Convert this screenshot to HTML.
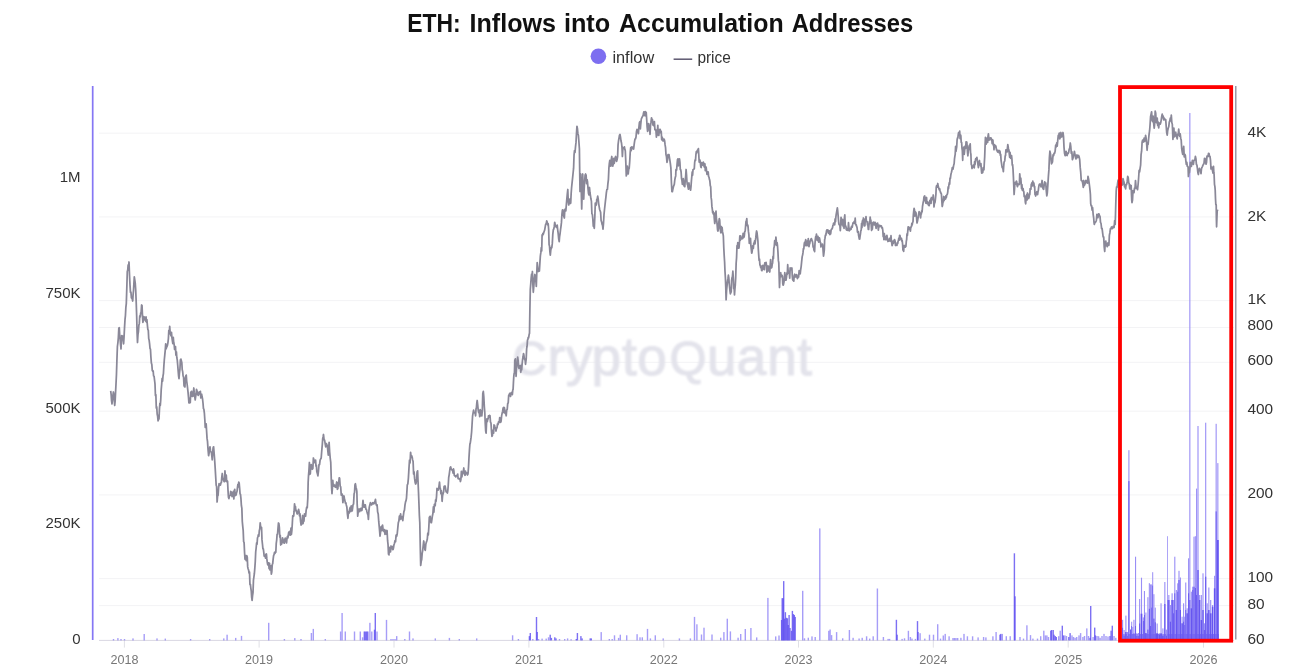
<!DOCTYPE html><html><head><meta charset="utf-8"><title>ETH: Inflows into Accumulation Addresses</title>
<style>html,body{margin:0;padding:0;background:#fff;}svg{display:block;}text{font-family:"Liberation Sans",Arial,sans-serif;}</style></head><body>
<svg width="1295" height="671" viewBox="0 0 1295 671">
<defs><filter id="blur" x="-5%" y="-20%" width="110%" height="140%"><feGaussianBlur stdDeviation="1.2"/></filter></defs>
<rect width="1295" height="671" fill="#fff"/>
<text x="407.2" y="31.5" font-size="25.5" font-weight="bold" fill="#111" textLength="53.4" lengthAdjust="spacingAndGlyphs">ETH:</text>
<text x="469.5" y="31.5" font-size="25.5" font-weight="bold" fill="#111" textLength="86.5" lengthAdjust="spacingAndGlyphs">Inflows</text>
<text x="563.9" y="31.5" font-size="25.5" font-weight="bold" fill="#111" textLength="46.3" lengthAdjust="spacingAndGlyphs">into</text>
<text x="619.1" y="31.5" font-size="25.5" font-weight="bold" fill="#111" textLength="164.5" lengthAdjust="spacingAndGlyphs">Accumulation</text>
<text x="791.7" y="31.5" font-size="25.5" font-weight="bold" fill="#111" textLength="121.6" lengthAdjust="spacingAndGlyphs">Addresses</text>
<circle cx="598.4" cy="56.2" r="7.8" fill="#7d6ef0"/>
<text x="612.4" y="63.2" font-size="16" fill="#333" textLength="41.8" lengthAdjust="spacingAndGlyphs">inflow</text>
<line x1="673.6" y1="59.2" x2="692.2" y2="59.2" stroke="#5d5870" stroke-width="1.5"/>
<text x="697.4" y="63.2" font-size="16" fill="#333" textLength="33.4" lengthAdjust="spacingAndGlyphs">price</text>
<line x1="99" y1="133.2" x2="1234" y2="133.2" stroke="#f3f3f5" stroke-width="1"/>
<line x1="99" y1="216.9" x2="1234" y2="216.9" stroke="#f3f3f5" stroke-width="1"/>
<line x1="99" y1="300.6" x2="1234" y2="300.6" stroke="#f3f3f5" stroke-width="1"/>
<line x1="99" y1="327.5" x2="1234" y2="327.5" stroke="#f3f3f5" stroke-width="1"/>
<line x1="99" y1="362.3" x2="1234" y2="362.3" stroke="#f3f3f5" stroke-width="1"/>
<line x1="99" y1="411.2" x2="1234" y2="411.2" stroke="#f3f3f5" stroke-width="1"/>
<line x1="99" y1="494.9" x2="1234" y2="494.9" stroke="#f3f3f5" stroke-width="1"/>
<line x1="99" y1="578.6" x2="1234" y2="578.6" stroke="#f3f3f5" stroke-width="1"/>
<line x1="99" y1="605.6" x2="1234" y2="605.6" stroke="#f3f3f5" stroke-width="1"/>
<g filter="url(#blur)" fill="#e3e3eb" stroke="#e3e3eb" stroke-width="1.1" text-anchor="middle"><text x="529.6" y="375.4" font-size="47.5">C</text><text x="556.4" y="375.4" font-size="53">r</text><text x="579.3" y="375.4" font-size="53">y</text><text x="606.3" y="375.4" font-size="53">p</text><text x="629.3" y="375.4" font-size="53">t</text><text x="651.9" y="375.4" font-size="53">o</text><text x="688" y="375.4" font-size="47.5">Q</text><text x="721.8" y="375.4" font-size="53">u</text><text x="751.4" y="375.4" font-size="53">a</text><text x="782.1" y="375.4" font-size="53">n</text><text x="804.7" y="375.4" font-size="53">t</text></g>
<line x1="99" y1="640.4" x2="1234" y2="640.4" stroke="#d9d7e2" stroke-width="1"/>
<line x1="124.4" y1="641" x2="124.4" y2="647.6" stroke="#e0e0e6" stroke-width="1"/>
<text x="124.4" y="664" text-anchor="middle" font-size="12.6" fill="#777">2018</text>
<line x1="259.1" y1="641" x2="259.1" y2="647.6" stroke="#e0e0e6" stroke-width="1"/>
<text x="259.1" y="664" text-anchor="middle" font-size="12.6" fill="#777">2019</text>
<line x1="394" y1="641" x2="394" y2="647.6" stroke="#e0e0e6" stroke-width="1"/>
<text x="394" y="664" text-anchor="middle" font-size="12.6" fill="#777">2020</text>
<line x1="528.9" y1="641" x2="528.9" y2="647.6" stroke="#e0e0e6" stroke-width="1"/>
<text x="528.9" y="664" text-anchor="middle" font-size="12.6" fill="#777">2021</text>
<line x1="663.8" y1="641" x2="663.8" y2="647.6" stroke="#e0e0e6" stroke-width="1"/>
<text x="663.8" y="664" text-anchor="middle" font-size="12.6" fill="#777">2022</text>
<line x1="798.5" y1="641" x2="798.5" y2="647.6" stroke="#e0e0e6" stroke-width="1"/>
<text x="798.5" y="664" text-anchor="middle" font-size="12.6" fill="#777">2023</text>
<line x1="933.3" y1="641" x2="933.3" y2="647.6" stroke="#e0e0e6" stroke-width="1"/>
<text x="933.3" y="664" text-anchor="middle" font-size="12.6" fill="#777">2024</text>
<line x1="1068.2" y1="641" x2="1068.2" y2="647.6" stroke="#e0e0e6" stroke-width="1"/>
<text x="1068.2" y="664" text-anchor="middle" font-size="12.6" fill="#777">2025</text>
<line x1="1203.5" y1="641" x2="1203.5" y2="647.6" stroke="#e0e0e6" stroke-width="1"/>
<text x="1203.5" y="664" text-anchor="middle" font-size="12.6" fill="#777">2026</text>
<g><rect x="112.80" y="639.0" width="1.4" height="1.4" fill="rgba(92,76,240,0.55)"/><rect x="117.20" y="638.1" width="1.4" height="2.3" fill="rgba(92,76,240,0.55)"/><rect x="120.30" y="639.0" width="1.4" height="1.4" fill="rgba(92,76,240,0.55)"/><rect x="123.80" y="639.0" width="1.4" height="1.4" fill="rgba(92,76,240,0.55)"/><rect x="132.30" y="638.4" width="1.4" height="2.0" fill="rgba(92,76,240,0.55)"/><rect x="143.50" y="634.0" width="1.4" height="6.4" fill="rgba(92,76,240,0.55)"/><rect x="156.30" y="638.4" width="1.4" height="2.0" fill="rgba(92,76,240,0.55)"/><rect x="164.60" y="638.6" width="1.4" height="1.8" fill="rgba(92,76,240,0.55)"/><rect x="189.90" y="639.0" width="1.4" height="1.4" fill="rgba(92,76,240,0.55)"/><rect x="209.00" y="639.0" width="1.4" height="1.4" fill="rgba(92,76,240,0.55)"/><rect x="223.10" y="638.4" width="1.4" height="2.0" fill="rgba(92,76,240,0.55)"/><rect x="226.40" y="634.7" width="1.4" height="5.7" fill="rgba(92,76,240,0.55)"/><rect x="235.00" y="637.9" width="1.4" height="2.5" fill="rgba(92,76,240,0.55)"/><rect x="240.80" y="635.9" width="1.4" height="4.5" fill="rgba(92,76,240,0.55)"/><rect x="268.00" y="622.8" width="1.4" height="17.6" fill="rgba(92,76,240,0.55)"/><rect x="283.70" y="639.0" width="1.4" height="1.4" fill="rgba(92,76,240,0.55)"/><rect x="294.10" y="638.1" width="1.4" height="2.3" fill="rgba(92,76,240,0.55)"/><rect x="300.30" y="639.0" width="1.4" height="1.4" fill="rgba(92,76,240,0.55)"/><rect x="310.70" y="633.0" width="1.4" height="7.4" fill="rgba(92,76,240,0.55)"/><rect x="312.60" y="628.9" width="1.4" height="11.5" fill="rgba(92,76,240,0.55)"/><rect x="324.60" y="639.0" width="1.4" height="1.4" fill="rgba(92,76,240,0.55)"/><rect x="339.90" y="631.5" width="1.4" height="8.9" fill="rgba(92,76,240,0.55)"/><rect x="341.40" y="613.0" width="1.4" height="27.4" fill="rgba(92,76,240,0.55)"/><rect x="344.60" y="631.5" width="1.4" height="8.9" fill="rgba(92,76,240,0.55)"/><rect x="353.80" y="631.5" width="1.4" height="8.9" fill="rgba(92,76,240,0.55)"/><rect x="359.60" y="631.5" width="1.4" height="8.9" fill="rgba(92,76,240,0.55)"/><rect x="361.90" y="637.3" width="1.4" height="3.1" fill="rgba(92,76,240,0.55)"/><rect x="363.60" y="631.5" width="1.4" height="8.9" fill="rgba(92,76,240,0.8)"/><rect x="364.80" y="631.5" width="1.4" height="8.9" fill="rgba(92,76,240,0.8)"/><rect x="366.00" y="631.5" width="1.4" height="8.9" fill="rgba(92,76,240,0.8)"/><rect x="367.10" y="631.5" width="1.4" height="8.9" fill="rgba(92,76,240,0.8)"/><rect x="369.20" y="622.8" width="1.4" height="17.6" fill="rgba(92,76,240,0.55)"/><rect x="371.10" y="631.5" width="1.4" height="8.9" fill="rgba(92,76,240,0.55)"/><rect x="373.80" y="629.7" width="1.4" height="10.7" fill="rgba(92,76,240,0.8)"/><rect x="374.60" y="613.0" width="1.4" height="27.4" fill="rgba(92,76,240,0.8)"/><rect x="376.30" y="631.5" width="1.4" height="8.9" fill="rgba(92,76,240,0.55)"/><rect x="385.80" y="619.9" width="1.4" height="20.5" fill="rgba(92,76,240,0.55)"/><rect x="390.30" y="639.0" width="1.4" height="1.4" fill="rgba(92,76,240,0.55)"/><rect x="392.30" y="639.0" width="1.4" height="1.4" fill="rgba(92,76,240,0.55)"/><rect x="394.30" y="639.0" width="1.4" height="1.4" fill="rgba(92,76,240,0.55)"/><rect x="396.00" y="636.1" width="1.4" height="4.3" fill="rgba(92,76,240,0.55)"/><rect x="404.10" y="639.0" width="1.4" height="1.4" fill="rgba(92,76,240,0.55)"/><rect x="408.80" y="631.5" width="1.4" height="8.9" fill="rgba(92,76,240,0.55)"/><rect x="412.30" y="638.4" width="1.4" height="2.0" fill="rgba(92,76,240,0.55)"/><rect x="434.60" y="638.4" width="1.4" height="2.0" fill="rgba(92,76,240,0.55)"/><rect x="448.70" y="637.9" width="1.4" height="2.5" fill="rgba(92,76,240,0.55)"/><rect x="458.60" y="639.0" width="1.4" height="1.4" fill="rgba(92,76,240,0.55)"/><rect x="476.00" y="638.4" width="1.4" height="2.0" fill="rgba(92,76,240,0.55)"/><rect x="511.90" y="635.3" width="1.4" height="5.1" fill="rgba(92,76,240,0.55)"/><rect x="517.70" y="639.0" width="1.4" height="1.4" fill="rgba(92,76,240,0.55)"/><rect x="528.70" y="636.1" width="1.4" height="4.3" fill="rgba(92,76,240,0.8)"/><rect x="529.60" y="633.0" width="1.4" height="7.4" fill="rgba(92,76,240,0.8)"/><rect x="532.10" y="639.0" width="1.4" height="1.4" fill="rgba(92,76,240,0.55)"/><rect x="535.80" y="617.0" width="1.4" height="23.4" fill="rgba(92,76,240,0.8)"/><rect x="536.50" y="632.0" width="1.4" height="8.4" fill="rgba(92,76,240,0.8)"/><rect x="537.90" y="639.0" width="1.4" height="1.4" fill="rgba(92,76,240,0.55)"/><rect x="541.40" y="638.6" width="1.4" height="1.8" fill="rgba(92,76,240,0.55)"/><rect x="545.50" y="638.6" width="1.4" height="1.8" fill="rgba(92,76,240,0.55)"/><rect x="547.80" y="637.3" width="1.4" height="3.1" fill="rgba(92,76,240,0.55)"/><rect x="549.50" y="634.7" width="1.4" height="5.7" fill="rgba(92,76,240,0.8)"/><rect x="550.70" y="637.9" width="1.4" height="2.5" fill="rgba(92,76,240,0.8)"/><rect x="554.10" y="637.3" width="1.4" height="3.1" fill="rgba(92,76,240,0.8)"/><rect x="555.30" y="638.4" width="1.4" height="2.0" fill="rgba(92,76,240,0.8)"/><rect x="558.80" y="639.0" width="1.4" height="1.4" fill="rgba(92,76,240,0.55)"/><rect x="564.00" y="639.0" width="1.4" height="1.4" fill="rgba(92,76,240,0.55)"/><rect x="566.90" y="638.4" width="1.4" height="2.0" fill="rgba(92,76,240,0.55)"/><rect x="570.40" y="639.2" width="1.4" height="1.2" fill="rgba(92,76,240,0.55)"/><rect x="575.60" y="639.0" width="1.4" height="1.4" fill="rgba(92,76,240,0.8)"/><rect x="576.70" y="633.0" width="1.4" height="7.4" fill="rgba(92,76,240,0.8)"/><rect x="580.20" y="636.1" width="1.4" height="4.3" fill="rgba(92,76,240,0.8)"/><rect x="581.40" y="638.4" width="1.4" height="2.0" fill="rgba(92,76,240,0.8)"/><rect x="589.50" y="638.4" width="1.4" height="2.0" fill="rgba(92,76,240,0.8)"/><rect x="590.60" y="638.4" width="1.4" height="2.0" fill="rgba(92,76,240,0.8)"/><rect x="600.50" y="632.1" width="1.4" height="8.3" fill="rgba(92,76,240,0.55)"/><rect x="608.60" y="639.0" width="1.4" height="1.4" fill="rgba(92,76,240,0.55)"/><rect x="611.50" y="639.0" width="1.4" height="1.4" fill="rgba(92,76,240,0.55)"/><rect x="613.80" y="635.3" width="1.4" height="5.1" fill="rgba(92,76,240,0.55)"/><rect x="617.90" y="637.9" width="1.4" height="2.5" fill="rgba(92,76,240,0.55)"/><rect x="619.60" y="634.7" width="1.4" height="5.7" fill="rgba(92,76,240,0.55)"/><rect x="626.00" y="635.3" width="1.4" height="5.1" fill="rgba(92,76,240,0.55)"/><rect x="636.40" y="634.2" width="1.4" height="6.2" fill="rgba(92,76,240,0.55)"/><rect x="639.30" y="637.3" width="1.4" height="3.1" fill="rgba(92,76,240,0.55)"/><rect x="641.60" y="637.3" width="1.4" height="3.1" fill="rgba(92,76,240,0.55)"/><rect x="646.80" y="628.9" width="1.4" height="11.5" fill="rgba(92,76,240,0.55)"/><rect x="649.70" y="638.4" width="1.4" height="2.0" fill="rgba(92,76,240,0.55)"/><rect x="654.60" y="635.3" width="1.4" height="5.1" fill="rgba(92,76,240,0.55)"/><rect x="662.50" y="638.4" width="1.4" height="2.0" fill="rgba(92,76,240,0.55)"/><rect x="678.70" y="638.4" width="1.4" height="2.0" fill="rgba(92,76,240,0.55)"/><rect x="689.70" y="638.4" width="1.4" height="2.0" fill="rgba(92,76,240,0.55)"/><rect x="693.80" y="616.9" width="1.4" height="23.5" fill="rgba(92,76,240,0.55)"/><rect x="696.20" y="624.3" width="1.4" height="16.1" fill="rgba(92,76,240,0.55)"/><rect x="700.80" y="634.5" width="1.4" height="5.9" fill="rgba(92,76,240,0.55)"/><rect x="703.30" y="627.7" width="1.4" height="12.7" fill="rgba(92,76,240,0.55)"/><rect x="711.30" y="634.5" width="1.4" height="5.9" fill="rgba(92,76,240,0.55)"/><rect x="720.00" y="637.7" width="1.4" height="2.7" fill="rgba(92,76,240,0.55)"/><rect x="723.20" y="632.1" width="1.4" height="8.3" fill="rgba(92,76,240,0.55)"/><rect x="726.60" y="618.7" width="1.4" height="21.7" fill="rgba(92,76,240,0.55)"/><rect x="729.70" y="631.4" width="1.4" height="9.0" fill="rgba(92,76,240,0.55)"/><rect x="737.40" y="637.7" width="1.4" height="2.7" fill="rgba(92,76,240,0.55)"/><rect x="740.00" y="634.0" width="1.4" height="6.4" fill="rgba(92,76,240,0.55)"/><rect x="744.60" y="629.0" width="1.4" height="11.4" fill="rgba(92,76,240,0.55)"/><rect x="750.20" y="628.0" width="1.4" height="12.4" fill="rgba(92,76,240,0.55)"/><rect x="756.00" y="637.4" width="1.4" height="3.0" fill="rgba(92,76,240,0.55)"/><rect x="767.20" y="597.9" width="1.4" height="42.5" fill="rgba(92,76,240,0.55)"/><rect x="775.00" y="636.4" width="1.4" height="4.0" fill="rgba(92,76,240,0.55)"/><rect x="778.30" y="635.5" width="1.4" height="4.9" fill="rgba(92,76,240,0.55)"/><rect x="780.90" y="620.0" width="1.4" height="20.4" fill="rgba(92,76,240,0.8)"/><rect x="781.50" y="598.2" width="1.4" height="42.2" fill="rgba(92,76,240,0.8)"/><rect x="782.40" y="598.2" width="1.4" height="42.2" fill="rgba(92,76,240,0.8)"/><rect x="783.00" y="581.1" width="1.4" height="59.3" fill="rgba(92,76,240,0.8)"/><rect x="783.90" y="618.7" width="1.4" height="21.7" fill="rgba(92,76,240,0.8)"/><rect x="784.70" y="612.2" width="1.4" height="28.2" fill="rgba(92,76,240,0.8)"/><rect x="785.80" y="617.8" width="1.4" height="22.6" fill="rgba(92,76,240,0.8)"/><rect x="786.70" y="618.3" width="1.4" height="22.1" fill="rgba(92,76,240,0.8)"/><rect x="787.50" y="625.0" width="1.4" height="15.4" fill="rgba(92,76,240,0.8)"/><rect x="788.40" y="615.0" width="1.4" height="25.4" fill="rgba(92,76,240,0.8)"/><rect x="789.30" y="628.0" width="1.4" height="12.4" fill="rgba(92,76,240,0.8)"/><rect x="790.80" y="630.8" width="1.4" height="9.6" fill="rgba(92,76,240,0.8)"/><rect x="791.70" y="610.9" width="1.4" height="29.5" fill="rgba(92,76,240,0.8)"/><rect x="792.70" y="614.1" width="1.4" height="26.3" fill="rgba(92,76,240,0.8)"/><rect x="793.60" y="615.0" width="1.4" height="25.4" fill="rgba(92,76,240,0.8)"/><rect x="794.50" y="616.9" width="1.4" height="23.5" fill="rgba(92,76,240,0.8)"/><rect x="802.00" y="590.8" width="1.4" height="49.6" fill="rgba(92,76,240,0.55)"/><rect x="803.80" y="638.3" width="1.4" height="2.1" fill="rgba(92,76,240,0.55)"/><rect x="807.60" y="637.7" width="1.4" height="2.7" fill="rgba(92,76,240,0.55)"/><rect x="811.30" y="636.4" width="1.4" height="4.0" fill="rgba(92,76,240,0.55)"/><rect x="814.50" y="637.0" width="1.4" height="3.4" fill="rgba(92,76,240,0.55)"/><rect x="819.10" y="528.4" width="1.4" height="112.0" fill="rgba(92,76,240,0.55)"/><rect x="828.10" y="630.8" width="1.4" height="9.6" fill="rgba(92,76,240,0.55)"/><rect x="829.40" y="629.5" width="1.4" height="10.9" fill="rgba(92,76,240,0.55)"/><rect x="830.90" y="635.1" width="1.4" height="5.3" fill="rgba(92,76,240,0.55)"/><rect x="835.90" y="632.1" width="1.4" height="8.3" fill="rgba(92,76,240,0.55)"/><rect x="842.00" y="638.3" width="1.4" height="2.1" fill="rgba(92,76,240,0.55)"/><rect x="848.70" y="630.0" width="1.4" height="10.4" fill="rgba(92,76,240,0.55)"/><rect x="852.40" y="637.8" width="1.4" height="2.6" fill="rgba(92,76,240,0.55)"/><rect x="858.40" y="638.5" width="1.4" height="1.9" fill="rgba(92,76,240,0.55)"/><rect x="861.50" y="637.8" width="1.4" height="2.6" fill="rgba(92,76,240,0.55)"/><rect x="865.90" y="636.3" width="1.4" height="4.1" fill="rgba(92,76,240,0.55)"/><rect x="869.00" y="638.6" width="1.4" height="1.8" fill="rgba(92,76,240,0.55)"/><rect x="872.50" y="636.3" width="1.4" height="4.1" fill="rgba(92,76,240,0.55)"/><rect x="876.70" y="588.5" width="1.4" height="51.9" fill="rgba(92,76,240,0.55)"/><rect x="882.70" y="637.0" width="1.4" height="3.4" fill="rgba(92,76,240,0.55)"/><rect x="887.40" y="638.9" width="1.4" height="1.5" fill="rgba(92,76,240,0.55)"/><rect x="888.90" y="638.9" width="1.4" height="1.5" fill="rgba(92,76,240,0.55)"/><rect x="895.70" y="619.8" width="1.4" height="20.6" fill="rgba(92,76,240,0.8)"/><rect x="896.40" y="634.7" width="1.4" height="5.7" fill="rgba(92,76,240,0.8)"/><rect x="901.40" y="638.9" width="1.4" height="1.5" fill="rgba(92,76,240,0.55)"/><rect x="903.80" y="638.3" width="1.4" height="2.1" fill="rgba(92,76,240,0.55)"/><rect x="907.70" y="630.8" width="1.4" height="9.6" fill="rgba(92,76,240,0.55)"/><rect x="909.70" y="637.0" width="1.4" height="3.4" fill="rgba(92,76,240,0.55)"/><rect x="911.30" y="638.6" width="1.4" height="1.8" fill="rgba(92,76,240,0.55)"/><rect x="914.70" y="638.9" width="1.4" height="1.5" fill="rgba(92,76,240,0.55)"/><rect x="916.80" y="621.1" width="1.4" height="19.3" fill="rgba(92,76,240,0.8)"/><rect x="917.30" y="632.0" width="1.4" height="8.4" fill="rgba(92,76,240,0.8)"/><rect x="919.40" y="633.2" width="1.4" height="7.2" fill="rgba(92,76,240,0.55)"/><rect x="924.10" y="638.6" width="1.4" height="1.8" fill="rgba(92,76,240,0.55)"/><rect x="928.80" y="634.7" width="1.4" height="5.7" fill="rgba(92,76,240,0.55)"/><rect x="932.80" y="634.7" width="1.4" height="5.7" fill="rgba(92,76,240,0.55)"/><rect x="937.00" y="624.2" width="1.4" height="16.2" fill="rgba(92,76,240,0.55)"/><rect x="939.80" y="638.6" width="1.4" height="1.8" fill="rgba(92,76,240,0.55)"/><rect x="942.60" y="635.5" width="1.4" height="4.9" fill="rgba(92,76,240,0.55)"/><rect x="944.50" y="633.9" width="1.4" height="6.5" fill="rgba(92,76,240,0.55)"/><rect x="948.40" y="636.3" width="1.4" height="4.1" fill="rgba(92,76,240,0.55)"/><rect x="952.30" y="638.0" width="1.4" height="2.4" fill="rgba(92,76,240,0.55)"/><rect x="953.80" y="638.0" width="1.4" height="2.4" fill="rgba(92,76,240,0.55)"/><rect x="955.30" y="638.0" width="1.4" height="2.4" fill="rgba(92,76,240,0.55)"/><rect x="957.00" y="638.0" width="1.4" height="2.4" fill="rgba(92,76,240,0.55)"/><rect x="960.20" y="637.8" width="1.4" height="2.6" fill="rgba(92,76,240,0.55)"/><rect x="963.30" y="633.9" width="1.4" height="6.5" fill="rgba(92,76,240,0.55)"/><rect x="966.70" y="636.3" width="1.4" height="4.1" fill="rgba(92,76,240,0.55)"/><rect x="971.90" y="636.3" width="1.4" height="4.1" fill="rgba(92,76,240,0.55)"/><rect x="977.40" y="637.4" width="1.4" height="3.0" fill="rgba(92,76,240,0.55)"/><rect x="982.90" y="637.0" width="1.4" height="3.4" fill="rgba(92,76,240,0.55)"/><rect x="985.20" y="637.4" width="1.4" height="3.0" fill="rgba(92,76,240,0.55)"/><rect x="992.20" y="636.3" width="1.4" height="4.1" fill="rgba(92,76,240,0.55)"/><rect x="995.40" y="632.0" width="1.4" height="8.4" fill="rgba(92,76,240,0.55)"/><rect x="999.30" y="634.7" width="1.4" height="5.7" fill="rgba(92,76,240,0.8)"/><rect x="1000.10" y="633.9" width="1.4" height="6.5" fill="rgba(92,76,240,0.8)"/><rect x="1001.60" y="633.9" width="1.4" height="6.5" fill="rgba(92,76,240,0.55)"/><rect x="1005.60" y="636.2" width="1.4" height="4.2" fill="rgba(92,76,240,0.55)"/><rect x="1009.50" y="636.2" width="1.4" height="4.2" fill="rgba(92,76,240,0.55)"/><rect x="1013.70" y="553.3" width="1.4" height="87.1" fill="rgba(92,76,240,0.8)"/><rect x="1014.30" y="596.3" width="1.4" height="44.1" fill="rgba(92,76,240,0.8)"/><rect x="1019.30" y="637.0" width="1.4" height="3.4" fill="rgba(92,76,240,0.55)"/><rect x="1022.80" y="638.6" width="1.4" height="1.8" fill="rgba(92,76,240,0.55)"/><rect x="1026.20" y="625.3" width="1.4" height="15.1" fill="rgba(92,76,240,0.55)"/><rect x="1029.80" y="635.1" width="1.4" height="5.3" fill="rgba(92,76,240,0.55)"/><rect x="1032.20" y="638.6" width="1.4" height="1.8" fill="rgba(92,76,240,0.55)"/><rect x="1036.80" y="638.6" width="1.4" height="1.8" fill="rgba(92,76,240,0.55)"/><rect x="1040.00" y="636.2" width="1.4" height="4.2" fill="rgba(92,76,240,0.55)"/><rect x="1043.10" y="630.7" width="1.4" height="9.7" fill="rgba(92,76,240,0.55)"/><rect x="1044.70" y="635.4" width="1.4" height="5.0" fill="rgba(92,76,240,0.55)"/><rect x="1046.20" y="635.4" width="1.4" height="5.0" fill="rgba(92,76,240,0.55)"/><rect x="1047.80" y="637.0" width="1.4" height="3.4" fill="rgba(92,76,240,0.55)"/><rect x="1050.10" y="630.7" width="1.4" height="9.7" fill="rgba(92,76,240,0.8)"/><rect x="1050.90" y="630.0" width="1.4" height="10.4" fill="rgba(92,76,240,0.8)"/><rect x="1052.50" y="630.0" width="1.4" height="10.4" fill="rgba(92,76,240,0.8)"/><rect x="1053.30" y="634.7" width="1.4" height="5.7" fill="rgba(92,76,240,0.8)"/><rect x="1054.50" y="636.0" width="1.4" height="4.4" fill="rgba(92,76,240,0.8)"/><rect x="1055.60" y="637.0" width="1.4" height="3.4" fill="rgba(92,76,240,0.8)"/><rect x="1058.00" y="636.2" width="1.4" height="4.2" fill="rgba(92,76,240,0.55)"/><rect x="1059.50" y="630.7" width="1.4" height="9.7" fill="rgba(92,76,240,0.55)"/><rect x="1061.60" y="625.7" width="1.4" height="14.7" fill="rgba(92,76,240,0.8)"/><rect x="1062.70" y="635.4" width="1.4" height="5.0" fill="rgba(92,76,240,0.8)"/><rect x="1064.20" y="635.4" width="1.4" height="5.0" fill="rgba(92,76,240,0.55)"/><rect x="1065.80" y="636.0" width="1.4" height="4.4" fill="rgba(92,76,240,0.55)"/><rect x="1068.10" y="637.0" width="1.4" height="3.4" fill="rgba(92,76,240,0.8)"/><rect x="1069.40" y="633.1" width="1.4" height="7.3" fill="rgba(92,76,240,0.8)"/><rect x="1071.30" y="635.4" width="1.4" height="5.0" fill="rgba(92,76,240,0.55)"/><rect x="1072.80" y="637.0" width="1.4" height="3.4" fill="rgba(92,76,240,0.55)"/><rect x="1074.40" y="637.8" width="1.4" height="2.6" fill="rgba(92,76,240,0.55)"/><rect x="1076.00" y="637.0" width="1.4" height="3.4" fill="rgba(92,76,240,0.55)"/><rect x="1078.30" y="635.4" width="1.4" height="5.0" fill="rgba(92,76,240,0.55)"/><rect x="1079.90" y="633.1" width="1.4" height="7.3" fill="rgba(92,76,240,0.55)"/><rect x="1082.20" y="637.0" width="1.4" height="3.4" fill="rgba(92,76,240,0.55)"/><rect x="1083.80" y="636.0" width="1.4" height="4.4" fill="rgba(92,76,240,0.55)"/><rect x="1086.10" y="628.4" width="1.4" height="12.0" fill="rgba(92,76,240,0.55)"/><rect x="1087.80" y="636.0" width="1.4" height="4.4" fill="rgba(92,76,240,0.55)"/><rect x="1089.30" y="637.8" width="1.4" height="2.6" fill="rgba(92,76,240,0.8)"/><rect x="1090.00" y="606.0" width="1.4" height="34.4" fill="rgba(92,76,240,0.8)"/><rect x="1092.40" y="637.0" width="1.4" height="3.4" fill="rgba(92,76,240,0.55)"/><rect x="1094.00" y="627.6" width="1.4" height="12.8" fill="rgba(92,76,240,0.8)"/><rect x="1094.70" y="635.4" width="1.4" height="5.0" fill="rgba(92,76,240,0.8)"/><rect x="1096.30" y="636.0" width="1.4" height="4.4" fill="rgba(92,76,240,0.55)"/><rect x="1097.90" y="636.2" width="1.4" height="4.2" fill="rgba(92,76,240,0.55)"/><rect x="1099.40" y="637.8" width="1.4" height="2.6" fill="rgba(92,76,240,0.55)"/><rect x="1101.30" y="636.0" width="1.4" height="4.4" fill="rgba(92,76,240,0.55)"/><rect x="1103.30" y="633.9" width="1.4" height="6.5" fill="rgba(92,76,240,0.55)"/><rect x="1105.30" y="636.0" width="1.4" height="4.4" fill="rgba(92,76,240,0.55)"/><rect x="1107.30" y="636.5" width="1.4" height="3.9" fill="rgba(92,76,240,0.55)"/><rect x="1109.30" y="636.0" width="1.4" height="4.4" fill="rgba(92,76,240,0.8)"/><rect x="1110.40" y="630.7" width="1.4" height="9.7" fill="rgba(92,76,240,0.8)"/><rect x="1111.60" y="625.7" width="1.4" height="14.7" fill="rgba(92,76,240,0.8)"/><rect x="1113.30" y="636.0" width="1.4" height="4.4" fill="rgba(92,76,240,0.55)"/><rect x="1115.10" y="637.8" width="1.4" height="2.6" fill="rgba(92,76,240,0.55)"/><rect x="1122" y="634" width="97" height="6.4" fill="#8a7ef4"/><rect x="1122.05" y="619.8" width="1.10" height="20.6" fill="#998ef6"/><rect x="1123.55" y="630.0" width="1.10" height="10.4" fill="#998ef6"/><rect x="1125.35" y="615.6" width="1.10" height="24.8" fill="#998ef6"/><rect x="1127.00" y="632.0" width="1.00" height="8.4" fill="#998ef6"/><rect x="1128.35" y="450.2" width="1.10" height="190.2" fill="#998ef6"/><rect x="1130.05" y="629.6" width="1.10" height="10.8" fill="#998ef6"/><rect x="1131.20" y="621.7" width="1.00" height="18.7" fill="#998ef6"/><rect x="1132.30" y="627.0" width="1.00" height="13.4" fill="#998ef6"/><rect x="1133.40" y="619.8" width="1.10" height="20.6" fill="#998ef6"/><rect x="1135.00" y="556.7" width="1.10" height="83.7" fill="#998ef6"/><rect x="1136.35" y="633.0" width="1.10" height="7.4" fill="#998ef6"/><rect x="1138.00" y="633.0" width="1.00" height="7.4" fill="#998ef6"/><rect x="1139.10" y="599.0" width="1.10" height="41.4" fill="#998ef6"/><rect x="1140.95" y="577.7" width="1.10" height="62.7" fill="#998ef6"/><rect x="1142.80" y="617.4" width="1.10" height="23.0" fill="#998ef6"/><rect x="1143.90" y="591.0" width="1.10" height="49.4" fill="#998ef6"/><rect x="1145.35" y="612.5" width="1.10" height="27.9" fill="#998ef6"/><rect x="1147.35" y="597.2" width="1.10" height="43.2" fill="#998ef6"/><rect x="1148.80" y="583.2" width="1.10" height="57.2" fill="#998ef6"/><rect x="1150.05" y="584.4" width="1.10" height="56.0" fill="#998ef6"/><rect x="1151.20" y="584.4" width="1.00" height="56.0" fill="#998ef6"/><rect x="1152.20" y="572.2" width="1.00" height="68.2" fill="#998ef6"/><rect x="1153.35" y="594.2" width="1.10" height="46.2" fill="#998ef6"/><rect x="1154.70" y="607.6" width="1.10" height="32.8" fill="#998ef6"/><rect x="1156.60" y="623.5" width="1.10" height="16.9" fill="#998ef6"/><rect x="1158.90" y="633.3" width="1.10" height="7.1" fill="#998ef6"/><rect x="1160.50" y="603.3" width="1.10" height="37.1" fill="#998ef6"/><rect x="1162.35" y="628.4" width="1.10" height="12.0" fill="#998ef6"/><rect x="1164.30" y="582.0" width="1.10" height="58.4" fill="#998ef6"/><rect x="1165.85" y="629.6" width="1.10" height="10.8" fill="#998ef6"/><rect x="1167.00" y="536.2" width="0.80" height="104.2" fill="#998ef6"/><rect x="1168.30" y="595.0" width="1.10" height="45.4" fill="#998ef6"/><rect x="1169.85" y="605.0" width="1.10" height="35.4" fill="#998ef6"/><rect x="1171.55" y="593.3" width="1.10" height="47.1" fill="#998ef6"/><rect x="1173.05" y="600.0" width="1.10" height="40.4" fill="#998ef6"/><rect x="1174.25" y="556.7" width="1.10" height="83.7" fill="#998ef6"/><rect x="1175.80" y="590.0" width="1.10" height="50.4" fill="#998ef6"/><rect x="1177.20" y="583.3" width="1.10" height="57.1" fill="#998ef6"/><rect x="1178.45" y="570.8" width="1.10" height="69.6" fill="#998ef6"/><rect x="1179.85" y="577.5" width="1.10" height="62.9" fill="#998ef6"/><rect x="1181.55" y="616.7" width="1.10" height="23.7" fill="#998ef6"/><rect x="1183.05" y="603.3" width="1.10" height="37.1" fill="#998ef6"/><rect x="1184.20" y="616.7" width="1.00" height="23.7" fill="#998ef6"/><rect x="1185.20" y="582.5" width="1.10" height="57.9" fill="#998ef6"/><rect x="1186.60" y="608.3" width="1.10" height="32.1" fill="#998ef6"/><rect x="1188.05" y="558.3" width="1.10" height="82.1" fill="#998ef6"/><rect x="1189.30" y="113.0" width="1.10" height="527.4" fill="#998ef6"/><rect x="1190.80" y="591.7" width="1.10" height="48.7" fill="#998ef6"/><rect x="1192.20" y="586.7" width="1.10" height="53.7" fill="#998ef6"/><rect x="1193.45" y="536.7" width="1.10" height="103.7" fill="#998ef6"/><rect x="1194.80" y="536.2" width="1.10" height="104.2" fill="#998ef6"/><rect x="1196.05" y="488.6" width="1.10" height="151.8" fill="#998ef6"/><rect x="1197.45" y="426.0" width="1.10" height="214.4" fill="#998ef6"/><rect x="1199.10" y="595.0" width="1.10" height="45.4" fill="#998ef6"/><rect x="1200.80" y="595.0" width="1.10" height="45.4" fill="#998ef6"/><rect x="1202.45" y="573.3" width="1.10" height="67.1" fill="#998ef6"/><rect x="1203.85" y="623.3" width="1.10" height="17.1" fill="#998ef6"/><rect x="1205.15" y="422.7" width="1.10" height="217.7" fill="#998ef6"/><rect x="1206.65" y="603.3" width="1.10" height="37.1" fill="#998ef6"/><rect x="1208.30" y="587.5" width="1.10" height="52.9" fill="#998ef6"/><rect x="1210.15" y="600.0" width="1.10" height="40.4" fill="#998ef6"/><rect x="1212.05" y="605.0" width="1.10" height="35.4" fill="#998ef6"/><rect x="1214.05" y="575.8" width="1.10" height="64.6" fill="#998ef6"/><rect x="1215.60" y="423.8" width="1.10" height="216.6" fill="#998ef6"/><rect x="1217.30" y="463.1" width="1.10" height="177.3" fill="#998ef6"/><rect x="1122.15" y="627.8" width="0.90" height="12.6" fill="#6656f0"/><rect x="1123.55" y="635.7" width="1.10" height="4.7" fill="#6656f0"/><rect x="1125.15" y="632.0" width="1.50" height="8.4" fill="#6656f0"/><rect x="1127.15" y="636.0" width="0.70" height="4.4" fill="#6656f0"/><rect x="1128.35" y="481.1" width="1.10" height="159.3" fill="#6656f0"/><rect x="1130.15" y="629.6" width="0.90" height="10.8" fill="#6656f0"/><rect x="1131.35" y="626.0" width="0.70" height="14.4" fill="#6656f0"/><rect x="1132.45" y="634.0" width="0.70" height="6.4" fill="#6656f0"/><rect x="1133.45" y="633.3" width="1.00" height="7.1" fill="#6656f0"/><rect x="1135.15" y="626.0" width="0.80" height="14.4" fill="#6656f0"/><rect x="1136.35" y="636.0" width="1.10" height="4.4" fill="#6656f0"/><rect x="1138.15" y="636.0" width="0.70" height="4.4" fill="#6656f0"/><rect x="1139.15" y="623.5" width="1.00" height="16.9" fill="#6656f0"/><rect x="1140.65" y="613.7" width="1.70" height="26.7" fill="#6656f0"/><rect x="1142.95" y="621.0" width="0.80" height="19.4" fill="#6656f0"/><rect x="1144.05" y="615.0" width="0.80" height="25.4" fill="#6656f0"/><rect x="1145.15" y="633.0" width="1.50" height="7.4" fill="#6656f0"/><rect x="1147.35" y="629.6" width="1.10" height="10.8" fill="#6656f0"/><rect x="1148.85" y="608.8" width="1.00" height="31.6" fill="#6656f0"/><rect x="1150.15" y="626.0" width="0.90" height="14.4" fill="#6656f0"/><rect x="1151.35" y="607.6" width="0.70" height="32.8" fill="#6656f0"/><rect x="1152.35" y="585.6" width="0.70" height="54.8" fill="#6656f0"/><rect x="1153.35" y="618.6" width="1.10" height="21.8" fill="#6656f0"/><rect x="1154.75" y="622.3" width="1.00" height="18.1" fill="#6656f0"/><rect x="1156.05" y="633.3" width="2.20" height="7.1" fill="#6656f0"/><rect x="1158.95" y="634.5" width="1.00" height="5.9" fill="#6656f0"/><rect x="1160.25" y="633.3" width="1.60" height="7.1" fill="#6656f0"/><rect x="1162.15" y="635.7" width="1.50" height="4.7" fill="#6656f0"/><rect x="1164.25" y="604.0" width="1.20" height="36.4" fill="#6656f0"/><rect x="1165.95" y="635.7" width="0.90" height="4.7" fill="#6656f0"/><rect x="1167.15" y="600.0" width="0.50" height="40.4" fill="#6656f0"/><rect x="1168.15" y="600.0" width="1.40" height="40.4" fill="#6656f0"/><rect x="1169.85" y="621.7" width="1.10" height="18.7" fill="#6656f0"/><rect x="1171.35" y="600.0" width="1.50" height="40.4" fill="#6656f0"/><rect x="1173.15" y="613.3" width="0.90" height="27.1" fill="#6656f0"/><rect x="1174.35" y="593.3" width="0.90" height="47.1" fill="#6656f0"/><rect x="1175.65" y="610.0" width="1.40" height="30.4" fill="#6656f0"/><rect x="1177.35" y="591.7" width="0.80" height="48.7" fill="#6656f0"/><rect x="1178.45" y="580.0" width="1.10" height="60.4" fill="#6656f0"/><rect x="1179.85" y="610.0" width="1.10" height="30.4" fill="#6656f0"/><rect x="1181.35" y="623.3" width="1.50" height="17.1" fill="#6656f0"/><rect x="1183.15" y="621.7" width="0.90" height="18.7" fill="#6656f0"/><rect x="1184.35" y="625.0" width="0.70" height="15.4" fill="#6656f0"/><rect x="1185.35" y="610.0" width="0.80" height="30.4" fill="#6656f0"/><rect x="1186.45" y="613.3" width="1.40" height="27.1" fill="#6656f0"/><rect x="1188.15" y="593.3" width="0.90" height="47.1" fill="#6656f0"/><rect x="1189.35" y="600.0" width="1.00" height="40.4" fill="#6656f0"/><rect x="1190.65" y="608.3" width="1.40" height="32.1" fill="#6656f0"/><rect x="1192.35" y="590.0" width="0.80" height="50.4" fill="#6656f0"/><rect x="1193.45" y="586.7" width="1.10" height="53.7" fill="#6656f0"/><rect x="1194.85" y="588.0" width="1.00" height="52.4" fill="#6656f0"/><rect x="1196.15" y="595.0" width="0.90" height="45.4" fill="#6656f0"/><rect x="1197.35" y="570.0" width="1.30" height="70.4" fill="#6656f0"/><rect x="1198.95" y="600.0" width="1.40" height="40.4" fill="#6656f0"/><rect x="1200.65" y="620.0" width="1.40" height="20.4" fill="#6656f0"/><rect x="1202.35" y="610.0" width="1.30" height="30.4" fill="#6656f0"/><rect x="1203.95" y="630.0" width="0.90" height="10.4" fill="#6656f0"/><rect x="1205.15" y="576.7" width="1.10" height="63.7" fill="#6656f0"/><rect x="1206.55" y="613.3" width="1.30" height="27.1" fill="#6656f0"/><rect x="1208.15" y="610.0" width="1.40" height="30.4" fill="#6656f0"/><rect x="1209.85" y="613.3" width="1.70" height="27.1" fill="#6656f0"/><rect x="1211.85" y="606.7" width="1.50" height="33.7" fill="#6656f0"/><rect x="1213.85" y="588.3" width="1.50" height="52.1" fill="#6656f0"/><rect x="1215.65" y="511.4" width="1.00" height="129.0" fill="#6656f0"/><rect x="1216.95" y="540.0" width="1.80" height="100.4" fill="#6656f0"/></g>
<polyline points="110.70,390.8 111.13,394.5 111.57,400.9 112.00,404.0 112.47,399.4 112.93,395.2 113.40,392.0 113.83,394.1 114.27,400.4 114.70,405.5 115.13,401.2 115.57,392.3 116.00,384.0 116.47,374.2 116.93,359.6 117.40,346.5 117.88,342.8 118.35,337.6 118.83,328.1 119.30,327.7 119.72,335.2 120.15,339.7 120.58,345.0 121.00,349.0 121.40,340.2 121.80,335.7 122.20,335.8 122.67,336.2 123.13,339.9 123.60,343.8 124.07,336.6 124.53,327.6 125.00,319.7 125.43,315.7 125.87,307.3 126.30,303.6 126.80,288.3 127.30,271.4 127.72,270.1 128.15,265.0 128.57,268.8 129.00,262.0 129.50,274.9 130.00,284.9 130.47,292.4 130.93,292.0 131.40,298.0 131.83,297.1 132.27,299.1 132.70,301.0 133.10,294.7 133.50,290.5 133.90,283.5 134.30,276.8 134.77,280.0 135.23,283.1 135.70,290.0 136.20,302.1 136.70,317.0 137.10,332.9 137.50,342.5 137.97,334.6 138.43,331.5 138.90,325.0 139.33,323.4 139.77,315.8 140.20,317.0 140.67,313.1 141.13,312.4 141.60,305.0 142.03,305.6 142.47,315.8 142.90,322.4 143.33,320.3 143.77,316.7 144.20,317.0 144.67,319.6 145.13,319.5 145.60,321.0 146.03,316.8 146.47,322.3 146.90,319.7 147.37,325.0 147.83,329.3 148.30,330.4 148.73,338.6 149.17,340.3 149.60,343.8 150.03,348.5 150.47,349.2 150.90,357.0 151.37,363.1 151.83,364.5 152.30,370.6 152.73,371.2 153.17,370.9 153.60,376.0 154.07,376.2 154.53,380.0 155.00,384.0 155.43,395.4 155.87,394.7 156.30,408.0 156.73,406.9 157.17,414.0 157.60,416.0 158.07,420.8 158.53,419.5 159.00,419.0 159.43,409.6 159.87,403.5 160.30,405.5 160.77,399.3 161.23,389.3 161.70,384.0 162.13,378.4 162.57,381.2 163.00,376.0 163.43,373.5 163.87,365.7 164.30,360.0 164.77,355.2 165.23,350.3 165.70,343.8 166.13,348.8 166.57,347.2 167.00,346.5 167.47,345.2 167.93,342.6 168.40,338.5 168.83,330.4 169.27,333.8 169.70,326.4 170.13,332.0 170.57,334.0 171.00,335.8 171.47,332.4 171.93,337.6 172.40,341.0 172.83,343.7 173.27,337.3 173.70,342.5 174.13,344.2 174.57,349.5 175.00,349.0 175.47,346.6 175.93,355.1 176.40,351.9 176.83,357.7 177.27,360.2 177.70,365.0 178.13,370.4 178.57,375.8 179.00,378.7 179.47,372.8 179.93,369.2 180.40,360.0 180.87,359.1 181.33,360.7 181.80,362.6 182.23,369.8 182.67,371.6 183.10,376.0 183.57,377.3 184.03,385.6 184.50,386.7 184.93,386.9 185.37,378.4 185.80,376.0 186.23,375.1 186.67,381.0 187.10,384.0 187.57,388.1 188.03,392.2 188.50,397.5 188.93,402.9 189.37,398.4 189.80,402.8 190.27,402.5 190.73,392.3 191.20,392.0 191.63,391.3 192.07,396.3 192.50,396.0 192.93,396.3 193.37,392.9 193.80,388.0 194.27,392.9 194.73,396.4 195.20,400.0 195.63,396.9 196.07,394.4 196.50,389.4 196.97,390.7 197.43,393.7 197.90,394.8 198.33,395.4 198.77,392.9 199.20,392.0 199.60,393.8 200.00,393.1 200.40,391.4 200.82,398.0 201.25,394.9 201.68,394.3 202.10,396.8 202.55,399.0 203.00,403.0 203.45,408.6 203.90,409.3 204.35,412.8 204.80,419.2 205.25,427.4 205.70,427.0 206.15,423.9 206.60,431.3 207.05,438.4 207.50,441.4 208.05,449.6 208.60,455.7 209.07,453.4 209.53,448.6 210.00,446.8 210.45,450.7 210.90,452.0 211.35,452.1 211.80,455.7 212.25,459.8 212.70,452.2 213.15,447.6 213.60,446.8 214.10,452.8 214.60,459.3 215.15,467.6 215.70,477.0 216.17,485.2 216.63,486.6 217.10,502.0 217.60,496.0 218.10,495.2 218.60,487.9 219.07,483.7 219.53,485.3 220.00,484.3 220.45,485.0 220.90,482.9 221.35,482.7 221.80,477.0 222.25,473.5 222.70,477.9 223.15,478.9 223.60,480.7 224.05,481.4 224.50,481.7 224.95,470.9 225.40,477.0 225.82,480.8 226.25,475.1 226.68,481.6 227.10,480.7 227.55,481.3 228.00,490.1 228.45,497.2 228.90,498.6 229.35,496.4 229.80,495.5 230.25,495.3 230.70,491.4 231.15,492.2 231.60,492.1 232.05,496.7 232.50,493.2 232.95,495.5 233.40,491.5 233.85,499.0 234.30,491.4 234.75,489.3 235.20,495.6 235.65,493.4 236.10,495.0 236.55,492.7 237.00,491.5 237.45,487.6 237.90,484.3 238.32,486.9 238.75,482.1 239.18,483.1 239.60,487.9 240.05,493.9 240.50,494.3 240.95,498.6 241.40,505.7 241.85,508.1 242.30,521.5 242.75,526.4 243.20,530.7 243.65,541.7 244.10,542.6 244.55,552.2 245.00,559.3 245.45,555.4 245.90,559.5 246.35,560.7 246.80,555.7 247.25,557.0 247.70,566.9 248.15,569.0 248.60,570.0 249.05,573.1 249.50,572.0 249.95,584.4 250.40,584.3 250.82,588.1 251.25,590.8 251.68,597.4 252.10,600.4 252.55,595.6 253.00,592.6 253.45,580.2 253.90,577.0 254.35,573.7 254.80,568.4 255.25,562.0 255.70,552.0 256.15,548.0 256.60,543.0 257.05,544.1 257.50,537.9 257.95,536.4 258.40,534.6 258.85,536.2 259.30,530.7 259.75,529.1 260.20,522.9 260.65,526.9 261.10,527.0 261.55,527.6 262.00,539.9 262.45,544.0 262.90,548.6 263.32,548.8 263.75,552.1 264.18,556.1 264.60,555.7 265.05,555.5 265.50,558.2 265.95,554.2 266.40,553.9 266.85,558.9 267.30,562.3 267.75,564.8 268.20,562.9 268.65,562.9 269.10,568.7 269.55,563.3 270.00,570.0 270.45,567.6 270.90,565.8 271.35,574.1 271.80,571.8 272.25,564.6 272.70,563.7 273.15,559.2 273.60,555.7 274.05,554.7 274.50,552.3 274.95,553.5 275.40,552.0 275.82,552.2 276.25,543.3 276.68,540.1 277.10,534.3 277.55,534.2 278.00,528.4 278.45,523.0 278.90,523.6 279.35,527.5 279.80,537.1 280.25,535.4 280.70,545.0 281.15,541.7 281.60,544.1 282.05,541.7 282.50,537.9 282.95,539.2 283.40,542.6 283.85,542.3 284.30,543.2 284.75,539.7 285.20,538.2 285.65,540.2 286.10,541.4 286.55,542.9 287.00,538.2 287.45,536.4 287.90,537.9 288.32,535.0 288.75,532.1 289.18,534.9 289.60,534.3 290.05,531.2 290.50,535.2 290.95,528.2 291.40,534.3 291.85,530.7 292.30,523.7 292.75,515.8 293.20,516.4 293.65,516.1 294.10,511.2 294.55,503.9 295.00,507.5 295.45,506.6 295.90,511.0 296.35,510.4 296.80,512.9 297.25,514.0 297.70,513.0 298.15,511.9 298.60,509.3 299.07,511.7 299.53,515.8 300.00,513.9 300.55,521.2 301.10,525.0 301.65,524.0 302.20,520.6 302.60,515.5 303.00,523.7 303.40,521.7 303.95,521.2 304.50,513.9 305.05,514.2 305.60,516.1 306.15,510.4 306.70,507.2 307.25,507.7 307.80,498.2 308.15,482.5 308.50,475.9 308.95,470.4 309.40,462.5 309.85,474.4 310.30,473.6 310.75,466.7 311.20,464.7 311.75,468.7 312.30,469.2 312.85,468.5 313.40,458.0 313.95,459.9 314.50,462.5 315.05,462.8 315.60,460.2 316.00,466.3 316.40,465.3 316.80,471.4 317.35,473.4 317.90,475.9 318.45,471.1 319.00,464.7 319.55,464.6 320.10,460.2 320.65,459.0 321.20,458.0 321.75,450.8 322.30,444.6 322.70,438.6 323.10,436.9 323.50,434.5 324.05,439.6 324.60,440.1 325.15,443.7 325.70,446.8 326.25,443.5 326.80,444.6 327.35,445.8 327.90,451.3 328.30,455.2 328.70,448.3 329.10,442.3 329.65,451.8 330.20,458.0 330.75,462.4 331.30,480.3 331.65,488.6 332.00,493.7 332.40,488.2 332.80,480.3 333.20,486.2 333.60,484.4 334.00,484.8 334.55,485.7 335.10,487.0 335.65,487.3 336.20,484.8 336.75,482.0 337.30,489.3 337.85,488.6 338.40,482.6 338.80,481.9 339.20,477.8 339.60,478.1 340.15,486.0 340.70,487.0 341.25,495.1 341.80,493.7 342.35,494.6 342.90,502.7 343.45,497.6 344.00,496.0 344.55,499.6 345.10,501.6 345.50,503.2 345.90,502.8 346.30,504.9 346.85,506.9 347.40,513.9 347.95,518.3 348.50,511.6 349.05,513.2 349.60,509.4 350.15,507.4 350.70,511.6 351.25,505.9 351.80,507.2 352.20,510.9 352.60,508.2 353.00,504.9 353.55,504.0 354.10,493.7 354.53,492.5 354.97,484.8 355.40,483.7 355.95,487.2 356.50,489.3 356.85,491.5 357.20,504.9 357.45,508.6 357.70,516.1 358.10,512.6 358.50,509.4 358.90,511.5 359.30,509.0 359.70,511.6 360.25,509.6 360.80,508.3 361.35,510.6 361.90,510.5 362.45,506.4 363.00,500.4 363.55,505.5 364.10,507.2 364.50,507.0 364.90,504.8 365.30,504.9 365.85,509.2 366.40,509.4 366.95,511.8 367.50,513.9 367.95,514.5 368.40,519.4 368.85,511.7 369.30,507.2 369.85,504.9 370.40,502.7 370.95,503.5 371.50,504.9 372.05,504.2 372.60,502.7 373.15,503.2 373.70,503.8 374.10,503.5 374.50,502.0 374.90,501.6 375.45,499.4 376.00,503.8 376.55,505.4 377.10,504.9 377.65,512.1 378.20,513.9 378.75,521.7 379.30,527.3 379.65,531.3 380.00,536.2 380.45,532.9 380.90,527.3 381.45,526.4 382.00,530.6 382.55,525.1 383.10,529.5 383.65,530.8 384.20,531.7 384.60,529.6 385.00,534.4 385.40,532.8 385.95,530.6 386.50,534.0 387.05,530.5 387.60,540.7 388.05,544.7 388.50,554.1 388.95,554.9 389.40,547.4 389.95,548.6 390.50,551.8 391.05,546.0 391.60,547.4 392.15,546.5 392.70,549.6 393.10,549.5 393.50,547.9 393.90,545.1 394.45,543.4 395.00,540.7 395.55,541.8 396.10,535.1 396.65,536.4 397.20,534.0 397.75,528.3 398.30,522.8 398.85,521.0 399.40,516.1 399.80,519.7 400.20,517.2 400.60,513.9 401.15,518.8 401.70,518.3 402.25,516.6 402.80,520.6 403.35,515.7 403.90,511.6 404.45,510.1 405.00,504.9 405.55,501.9 406.10,500.4 406.50,498.0 406.90,491.6 407.30,484.8 407.85,483.8 408.40,478.1 408.95,468.6 409.50,460.2 410.05,462.9 410.60,452.4 411.15,457.3 411.70,455.8 412.17,457.2 412.63,459.9 413.10,461.6 413.60,473.9 414.10,471.9 414.60,478.4 415.10,482.2 415.60,484.0 416.10,483.0 416.60,479.0 417.10,471.8 417.60,470.8 418.05,481.9 418.50,492.1 418.93,503.2 419.37,515.4 419.80,522.7 420.25,546.1 420.70,565.4 421.20,561.4 421.70,559.5 422.20,553.2 422.70,550.5 423.20,545.6 423.70,541.0 424.10,543.4 424.50,545.0 424.90,549.7 425.30,550.2 425.80,544.4 426.30,542.4 426.80,541.0 427.30,539.0 427.80,533.1 428.30,534.9 428.80,527.7 429.30,517.5 429.80,516.6 430.20,516.3 430.60,521.1 431.00,522.6 431.40,522.7 431.90,519.5 432.40,516.0 432.90,513.5 433.40,506.8 433.90,512.2 434.40,504.4 434.80,505.0 435.20,505.7 435.60,499.8 436.00,501.3 436.50,496.8 437.00,488.4 437.50,489.1 438.00,490.1 438.50,489.5 439.00,486.0 439.50,482.1 440.00,487.9 440.50,489.1 440.90,493.8 441.30,490.6 441.70,493.5 442.10,501.3 442.60,495.5 443.10,493.5 443.60,492.1 444.10,486.4 444.60,488.1 445.10,486.0 445.60,488.7 446.10,491.7 446.60,492.1 447.00,492.4 447.40,493.0 447.80,490.6 448.20,486.0 448.70,477.5 449.20,474.6 449.70,470.8 450.20,467.5 450.70,466.9 451.20,469.2 451.70,469.5 452.20,470.3 452.70,470.8 453.10,473.2 453.50,468.9 453.90,471.0 454.30,475.3 454.80,475.8 455.30,475.8 455.80,476.9 456.30,475.6 456.80,475.7 457.30,475.3 457.70,474.1 458.10,478.7 458.50,478.5 458.90,478.4 459.40,479.2 459.90,478.7 460.40,481.5 460.90,479.5 461.40,471.4 461.90,476.9 462.40,472.3 462.90,472.9 463.40,470.8 463.80,468.0 464.20,473.6 464.60,474.6 465.00,475.3 465.50,471.2 466.00,473.6 466.50,473.8 467.00,473.0 467.50,475.0 468.00,473.8 468.50,467.3 469.00,457.4 469.50,449.4 469.90,444.1 470.30,442.9 470.70,440.1 471.10,437.2 471.60,432.0 472.10,423.7 472.60,415.8 473.10,412.9 473.60,410.2 474.10,412.7 474.60,412.8 475.10,412.8 475.60,415.8 476.00,409.1 476.40,407.8 476.80,403.0 477.20,400.5 477.70,404.8 478.20,410.0 478.70,412.7 479.20,410.6 479.70,416.7 480.20,409.7 480.60,410.4 481.00,415.6 481.40,414.6 481.80,415.8 482.30,410.6 482.80,393.4 483.30,391.4 483.80,396.5 484.30,406.2 484.80,412.7 485.25,423.5 485.70,431.1 486.10,433.1 486.50,423.8 486.90,418.9 487.30,421.5 487.70,419.3 488.10,419.0 488.50,415.8 489.00,417.1 489.50,415.4 490.00,415.8 490.50,422.2 491.00,423.2 491.50,431.1 491.95,436.4 492.40,435.6 492.80,430.3 493.20,430.9 493.60,433.2 494.00,425.0 494.50,425.4 495.00,427.1 495.50,428.0 496.00,431.0 496.50,428.1 497.00,428.0 497.50,423.9 498.00,424.6 498.50,421.9 498.90,422.7 499.30,422.2 499.70,417.6 500.10,418.9 500.60,422.4 501.10,421.2 501.60,415.8 502.10,413.3 502.60,411.4 503.10,408.2 503.50,407.5 503.90,412.6 504.30,407.5 504.70,409.7 505.20,413.5 505.70,412.5 506.20,415.8 506.70,409.9 507.20,409.5 507.70,403.6 508.20,402.9 508.70,395.2 509.17,395.2 509.63,393.4 510.10,395.2 510.53,396.4 510.97,393.3 511.40,392.5 511.87,392.4 512.33,394.7 512.80,389.8 513.10,389.4 513.40,383.1 513.75,377.0 514.10,373.7 514.45,372.9 514.80,360.3 515.10,359.6 515.40,358.9 515.75,369.7 516.10,376.4 516.45,368.7 516.80,364.3 517.23,362.9 517.67,357.1 518.10,360.3 518.57,367.2 519.03,368.3 519.50,367.0 519.93,365.6 520.37,366.6 520.80,372.3 521.23,365.4 521.67,370.0 522.10,364.3 522.57,359.5 523.03,357.0 523.50,353.6 523.85,354.8 524.20,357.6 524.63,359.5 525.07,359.2 525.50,364.3 525.85,361.7 526.20,358.9 526.63,348.9 527.07,346.2 527.50,340.1 527.85,339.6 528.20,337.4 528.55,338.0 528.90,336.1 529.20,334.1 529.50,333.4 529.90,309.1 530.30,289.4 530.75,283.9 531.20,277.5 531.60,274.2 532.00,277.6 532.40,271.5 532.85,283.9 533.30,292.3 533.80,286.1 534.30,279.2 534.80,274.5 535.30,276.6 535.80,280.0 536.30,286.4 536.75,273.6 537.20,262.6 537.60,266.3 538.00,269.9 538.40,271.5 538.90,270.0 539.40,271.0 539.90,262.6 540.37,255.8 540.83,252.7 541.30,247.7 541.70,251.0 542.10,234.8 542.50,235.7 542.90,233.4 543.30,234.2 543.70,232.8 544.20,231.2 544.70,229.9 545.20,226.8 545.70,224.2 546.20,223.8 546.70,220.9 547.20,222.0 547.70,224.8 548.20,223.8 548.65,229.3 549.10,244.7 549.50,245.9 549.90,251.6 550.30,255.1 550.80,250.0 551.30,247.5 551.80,247.7 552.30,243.4 552.80,234.1 553.30,229.8 553.77,229.0 554.23,226.7 554.70,222.3 555.20,224.6 555.70,226.6 556.20,226.8 556.70,227.5 557.20,225.1 557.70,229.8 558.20,233.7 558.70,238.9 559.20,241.7 559.60,236.5 560.00,234.1 560.50,229.9 561.00,226.3 561.45,222.4 561.90,214.7 562.40,210.0 562.90,209.8 563.40,214.9 563.90,216.6 564.35,218.0 564.80,209.8 565.30,208.9 565.80,210.8 566.30,205.4 566.80,199.2 567.30,194.0 567.80,189.5 568.25,201.3 568.70,205.0 569.20,202.9 569.70,199.2 570.20,203.5 570.70,203.1 571.15,193.5 571.60,187.5 572.10,182.7 572.60,177.9 573.10,173.0 573.60,168.2 574.05,154.8 574.50,150.7 575.00,152.5 575.50,146.8 576.00,142.4 576.50,133.3 576.95,126.3 577.40,128.4 577.90,133.7 578.40,135.2 578.90,141.7 579.40,148.8 579.70,171.3 580.00,191.4 580.35,183.7 580.70,174.0 581.20,187.6 581.70,208.9 582.20,190.9 582.70,174.0 583.20,190.5 583.70,199.2 584.15,189.0 584.60,181.7 585.10,175.2 585.60,174.0 586.10,175.3 586.60,183.7 587.05,179.5 587.50,181.7 588.00,188.4 588.50,193.4 589.00,194.9 589.50,187.5 589.95,192.5 590.40,195.3 590.90,198.8 591.40,201.1 591.90,213.7 592.40,214.7 592.85,219.1 593.30,226.3 593.80,225.5 594.30,228.3 594.80,217.1 595.30,203.1 595.80,205.5 596.30,205.0 596.75,199.5 597.20,199.2 597.70,196.2 598.20,199.2 598.70,203.8 599.20,206.9 599.65,209.5 600.10,210.8 600.60,212.3 601.10,220.5 601.60,221.9 602.10,224.4 602.55,225.4 603.00,229.2 603.50,223.1 604.00,214.7 604.50,209.5 605.00,205.0 605.45,200.9 605.90,197.2 606.40,192.4 606.90,189.5 607.40,189.3 607.90,183.7 608.40,179.6 608.90,168.2 609.35,163.3 609.80,160.4 610.30,165.5 610.80,166.2 611.30,159.4 611.80,156.5 612.25,161.5 612.70,166.2 613.20,164.3 613.70,158.5 614.20,163.4 614.70,160.4 615.15,157.5 615.60,156.5 616.10,158.8 616.60,161.4 617.10,159.5 617.60,156.5 618.05,144.9 618.50,141.0 619.00,138.1 619.50,135.2 620.00,134.4 620.50,137.1 621.00,141.0 621.50,143.0 621.95,146.8 622.40,156.5 622.90,147.5 623.40,148.8 623.90,147.9 624.40,146.8 624.85,149.4 625.30,150.7 625.80,161.9 626.30,175.9 626.80,173.4 627.30,166.2 627.75,169.4 628.20,174.0 628.70,169.5 629.20,168.2 629.70,161.7 630.20,152.7 630.70,147.6 631.20,150.7 631.65,147.0 632.10,146.8 632.60,147.7 633.10,148.8 633.60,149.1 634.10,144.9 634.55,141.6 635.00,139.1 635.50,138.9 636.00,137.1 636.50,131.5 637.00,129.4 637.45,131.1 637.90,131.3 638.40,133.7 638.90,127.4 639.40,122.7 639.90,121.6 640.35,128.8 640.80,123.6 641.30,119.0 641.80,117.8 642.30,116.8 642.80,115.8 643.30,114.3 643.80,111.9 644.25,115.6 644.70,113.9 645.20,111.6 645.70,115.8 646.20,112.3 646.70,119.7 647.15,127.1 647.60,131.3 648.10,129.5 648.60,123.6 649.10,128.1 649.60,129.4 650.05,134.3 650.50,125.5 651.00,122.2 651.50,117.8 652.00,119.4 652.50,119.7 652.95,125.0 653.40,125.5 653.90,124.5 654.40,121.6 654.90,129.8 655.40,129.4 655.90,130.0 656.40,137.1 656.85,134.2 657.30,133.3 657.80,125.3 658.30,135.2 658.80,135.4 659.30,131.3 659.75,129.4 660.20,129.4 660.70,132.8 661.20,131.3 661.70,139.8 662.20,137.1 662.65,139.0 663.10,141.0 663.60,139.4 664.10,139.1 664.60,140.7 665.10,144.9 665.55,147.6 666.00,154.6 666.50,156.8 667.00,162.3 667.50,160.1 668.00,154.6 668.50,154.7 669.00,154.6 669.45,157.7 669.90,160.4 670.40,163.8 670.90,168.2 671.40,182.2 671.90,191.4 672.35,191.7 672.80,189.5 673.30,187.2 673.80,185.6 674.30,184.4 674.80,179.8 675.25,177.5 675.70,175.9 675.95,169.7 676.20,169.5 676.63,170.0 677.07,164.2 677.50,159.7 677.90,158.8 678.30,165.8 678.70,164.6 679.10,164.7 679.50,158.9 679.90,162.1 680.30,169.6 680.70,169.6 681.10,172.0 681.53,178.4 681.97,180.7 682.40,184.3 682.80,183.1 683.20,178.6 683.60,181.8 684.00,186.0 684.40,185.1 684.80,186.7 685.23,180.2 685.67,176.1 686.10,169.5 686.50,174.6 686.90,181.1 687.30,184.3 687.70,185.0 688.10,187.5 688.50,189.2 688.93,182.8 689.37,186.4 689.80,186.7 690.20,188.5 690.60,190.2 691.00,186.7 691.40,180.9 691.80,176.6 692.20,172.0 692.60,175.3 693.00,169.5 693.40,169.5 693.83,168.9 694.27,168.9 694.70,162.1 695.10,159.8 695.50,160.4 695.90,154.8 696.30,151.7 696.70,152.9 697.10,151.1 697.53,150.1 697.97,149.7 698.40,148.6 698.80,155.2 699.20,162.2 699.60,159.7 700.00,160.4 700.40,163.1 700.80,167.0 701.20,167.5 701.60,162.7 702.00,164.6 702.43,165.1 702.87,164.4 703.30,162.1 703.70,163.0 704.10,166.7 704.50,167.0 704.90,163.8 705.30,170.6 705.70,169.5 706.13,167.1 706.57,171.0 707.00,174.4 707.40,172.2 707.80,171.8 708.20,172.0 708.60,176.7 709.00,177.1 709.40,179.3 709.83,180.7 710.27,185.6 710.70,186.7 711.10,197.4 711.50,199.8 711.90,206.4 712.30,209.0 712.70,212.9 713.10,211.3 713.50,214.5 713.90,212.9 714.30,218.7 714.73,223.5 715.17,221.2 715.60,213.8 716.00,211.1 716.40,218.6 716.80,221.1 717.20,225.5 717.60,230.2 718.00,231.0 718.43,228.6 718.87,222.1 719.30,218.7 719.70,220.1 720.10,227.2 720.50,231.0 720.90,232.9 721.30,226.5 721.70,228.5 722.10,227.5 722.50,231.7 722.90,233.4 723.33,235.8 723.77,247.5 724.20,255.6 724.60,261.8 725.00,271.5 725.40,277.7 725.75,286.9 726.10,299.8 726.60,290.2 727.10,285.1 727.53,280.8 727.97,278.4 728.40,275.2 728.80,277.6 729.20,283.4 729.60,287.5 730.00,291.1 730.40,293.8 730.80,292.4 731.20,291.9 731.60,280.6 732.00,277.7 732.43,276.6 732.87,271.2 733.30,277.7 733.70,288.4 734.10,287.3 734.50,294.9 734.90,289.1 735.30,284.8 735.70,277.7 736.13,263.5 736.57,257.6 737.00,245.7 737.40,246.5 737.80,242.6 738.20,248.2 738.60,247.3 739.00,248.0 739.40,243.3 739.83,236.0 740.27,240.5 740.70,235.9 741.10,237.3 741.50,238.8 741.90,238.4 742.30,237.9 742.70,238.5 743.10,233.4 743.50,233.7 743.90,237.3 744.30,235.9 744.73,231.6 745.17,231.3 745.60,226.1 746.00,221.5 746.40,220.9 746.80,218.7 747.20,225.7 747.60,224.8 748.00,226.1 748.43,231.4 748.87,234.6 749.30,243.3 749.70,239.6 750.10,240.5 750.50,238.4 750.90,245.7 751.30,249.3 751.70,253.1 752.10,252.0 752.50,248.1 752.90,245.7 753.33,248.4 753.77,243.1 754.20,243.3 754.60,241.0 755.00,243.9 755.40,240.8 755.80,237.7 756.20,233.5 756.60,231.0 757.03,232.8 757.47,236.9 757.90,240.8 758.30,249.0 758.70,254.9 759.10,260.5 759.50,259.0 759.90,264.9 760.30,265.4 760.73,267.5 761.17,266.1 761.60,270.3 762.00,270.7 762.40,266.3 762.80,265.4 763.20,265.4 763.60,269.1 764.00,267.9 764.40,269.7 764.80,262.8 765.20,262.9 765.63,264.9 766.07,262.3 766.50,265.4 766.90,272.3 767.30,265.8 767.70,267.9 768.10,271.0 768.50,266.2 768.90,267.9 769.33,269.2 769.77,272.0 770.20,265.4 770.60,259.6 771.00,265.9 771.40,267.9 771.80,267.5 772.20,264.3 772.60,262.9 773.00,256.3 773.40,258.7 773.80,248.2 774.23,246.8 774.67,240.7 775.10,243.3 775.50,244.7 775.90,237.2 776.30,240.8 776.70,245.4 777.10,242.6 777.50,245.7 777.93,251.8 778.37,260.4 778.80,262.9 779.15,275.5 779.50,287.5 779.90,279.0 780.30,273.3 780.70,272.8 781.13,276.7 781.57,276.3 782.00,275.2 782.40,276.4 782.80,284.0 783.20,285.1 783.60,283.9 784.00,281.9 784.40,277.7 784.80,272.7 785.20,278.6 785.60,280.2 786.03,280.1 786.47,277.2 786.90,272.8 787.30,274.3 787.70,264.7 788.10,270.3 788.50,271.6 788.90,273.2 789.30,272.8 789.73,278.2 790.17,267.9 790.60,269.1 790.90,268.4 791.20,269.5 791.55,268.8 791.90,268.0 792.30,276.3 792.70,280.0 793.05,279.2 793.40,280.7 793.80,281.1 794.20,275.5 794.70,274.2 795.20,277.0 795.75,276.6 796.30,274.8 796.70,274.7 797.10,277.7 797.50,278.5 798.05,276.0 798.60,277.0 799.15,270.6 799.70,272.5 800.20,273.8 800.70,269.5 801.15,266.6 801.60,262.1 802.15,256.9 802.70,254.6 803.05,252.2 803.40,248.7 803.80,249.0 804.20,244.2 804.55,242.4 804.90,245.7 805.30,242.4 805.70,239.7 806.05,244.1 806.40,245.7 806.75,244.8 807.10,241.2 807.50,242.6 807.90,245.7 808.25,238.7 808.60,242.7 809.00,246.7 809.40,244.2 809.75,243.6 810.10,241.2 810.50,240.5 810.90,239.7 811.25,238.6 811.60,239.0 812.00,240.8 812.40,241.2 812.75,243.1 813.10,247.2 813.50,246.0 813.90,250.2 814.25,249.0 814.60,251.6 814.95,244.1 815.30,239.7 815.70,236.6 816.10,236.7 816.45,234.1 816.80,237.5 817.20,240.3 817.60,239.7 817.95,236.3 818.30,239.7 818.70,242.2 819.10,241.2 819.45,237.8 819.80,239.7 820.20,242.1 820.60,242.7 820.95,247.0 821.30,244.2 821.70,245.5 822.10,245.7 822.45,244.1 822.80,246.4 823.15,251.4 823.50,256.1 823.90,253.5 824.30,250.2 824.65,239.7 825.00,238.2 825.40,235.2 825.80,235.3 826.15,233.5 826.50,230.8 826.90,229.9 827.30,231.5 827.65,231.0 828.00,230.0 828.40,233.1 828.80,232.3 829.15,233.5 829.50,230.8 829.90,234.7 830.30,233.8 830.65,233.8 831.00,230.8 831.35,229.3 831.70,229.3 832.10,228.5 832.50,227.8 832.85,225.6 833.20,224.8 833.60,223.2 834.00,223.3 834.35,223.6 834.70,224.8 835.10,218.8 835.50,221.8 835.85,217.2 836.20,214.4 836.60,212.1 837.00,209.9 837.35,207.8 837.70,210.7 838.10,215.4 838.50,220.3 838.85,223.9 839.20,224.8 839.55,224.8 839.90,225.6 840.30,230.6 840.70,224.8 841.05,217.3 841.40,223.3 841.80,223.5 842.20,224.8 842.55,219.3 842.90,223.3 843.30,226.6 843.70,224.8 844.05,228.4 844.40,218.1 844.80,214.9 845.20,224.8 845.55,225.9 845.90,226.3 846.25,229.5 846.60,230.0 847.00,228.5 847.40,228.5 847.75,230.3 848.10,229.3 848.50,222.7 848.90,227.8 849.25,230.8 849.60,229.3 850.00,229.9 850.40,228.5 850.75,229.0 851.10,229.3 851.50,226.3 851.90,226.3 852.25,227.2 852.60,224.8 853.00,222.8 853.40,223.3 853.75,223.1 854.10,221.8 854.45,221.2 854.80,223.3 855.20,218.2 855.60,224.8 855.95,224.7 856.30,224.8 856.70,226.8 857.10,227.8 857.45,232.0 857.80,232.3 858.20,231.5 858.60,235.3 858.95,237.1 859.30,239.0 859.70,239.1 860.10,236.0 860.45,233.8 860.80,230.8 861.20,230.3 861.60,223.3 861.95,227.7 862.30,221.8 862.65,220.2 863.00,223.3 863.40,218.0 863.80,222.6 864.15,225.9 864.50,224.8 864.90,225.8 865.30,218.9 865.65,220.1 866.00,216.6 866.40,221.3 866.80,221.8 867.15,221.7 867.50,224.8 867.90,225.2 868.30,229.3 868.65,229.4 869.00,224.8 869.40,221.7 869.80,223.3 870.15,217.1 870.50,220.3 870.85,220.0 871.20,224.8 871.60,230.5 872.00,223.3 872.35,229.1 872.70,224.8 873.10,222.3 873.50,223.3 873.85,222.2 874.20,224.8 874.60,224.7 875.00,223.3 875.35,222.5 875.70,225.6 876.10,228.3 876.50,224.1 876.85,224.6 877.20,225.6 877.60,223.1 878.00,226.3 878.35,230.1 878.70,227.1 879.05,225.2 879.40,226.3 879.80,226.5 880.20,225.6 880.55,225.9 880.90,226.3 881.30,225.9 881.70,227.1 882.05,228.3 882.40,227.8 882.80,230.4 883.20,236.7 883.55,233.4 883.90,239.7 884.30,233.6 884.70,239.0 885.05,236.1 885.40,239.7 885.80,237.7 886.20,239.7 886.55,237.4 886.90,235.3 887.25,237.6 887.60,239.7 888.00,241.5 888.40,240.5 888.75,241.2 889.10,241.2 889.50,238.4 889.90,239.7 890.25,238.6 890.60,241.2 891.00,235.7 891.40,241.2 891.75,243.0 892.10,245.7 892.50,244.7 892.90,241.2 893.25,243.3 893.60,242.7 894.00,240.9 894.40,239.7 894.75,240.0 895.10,241.2 895.45,245.5 895.80,244.9 896.20,244.6 896.60,244.2 896.95,245.4 897.30,242.7 897.70,243.5 898.10,241.2 898.45,240.3 898.80,238.2 899.20,240.1 899.60,235.3 899.95,235.3 900.30,238.2 900.70,238.0 901.10,239.7 901.45,238.3 901.80,241.2 902.20,240.6 902.60,244.2 902.95,250.1 903.30,247.9 903.65,251.4 904.00,245.7 904.40,245.8 904.80,245.7 905.15,247.2 905.50,245.7 905.90,246.5 906.30,241.2 906.65,239.6 907.00,233.8 907.40,235.4 907.80,230.8 908.15,226.8 908.50,229.3 908.90,227.2 909.30,228.5 909.65,229.3 910.00,227.8 910.40,231.2 910.80,227.1 911.15,227.0 911.50,226.3 911.85,223.3 912.20,224.8 912.60,222.4 913.00,221.8 913.35,214.9 913.70,211.4 914.10,208.4 914.50,209.9 914.85,216.1 915.20,214.4 915.60,212.0 916.00,212.9 916.25,215.0 916.50,216.9 917.00,223.0 917.50,221.0 918.00,218.4 918.35,217.0 918.70,213.9 919.10,211.6 919.50,212.4 919.85,213.9 920.20,213.2 920.60,217.8 921.00,213.9 921.35,214.0 921.70,210.9 922.10,212.0 922.50,206.5 922.85,204.5 923.20,202.0 923.55,201.1 923.90,197.5 924.30,196.2 924.70,196.0 925.05,199.4 925.40,200.5 925.80,203.1 926.20,199.0 926.55,197.5 926.90,203.5 927.30,202.6 927.70,202.0 928.05,204.1 928.40,205.0 928.80,203.9 929.20,205.7 929.55,202.3 929.90,200.5 930.30,201.8 930.70,199.0 931.05,203.5 931.40,197.5 931.75,199.9 932.10,199.0 932.50,199.1 932.90,197.5 933.25,195.0 933.60,200.5 934.00,207.0 934.40,203.5 934.75,203.0 935.10,202.0 935.50,198.2 935.90,194.5 936.25,187.1 936.60,185.6 937.00,186.2 937.40,187.1 937.75,183.5 938.10,185.6 938.50,187.3 938.90,188.6 939.25,189.8 939.60,188.6 939.95,190.2 940.30,191.6 940.70,193.0 941.10,193.0 941.45,194.5 941.80,200.5 942.20,206.5 942.60,205.0 942.95,201.8 943.30,202.0 943.70,196.5 944.10,200.5 944.45,199.3 944.80,199.0 945.20,197.0 945.60,199.0 945.95,195.6 946.30,197.5 946.70,195.1 947.10,194.5 947.45,193.8 947.80,191.6 948.15,187.0 948.50,188.6 948.90,185.2 949.30,182.6 949.65,184.1 950.00,178.1 950.40,178.4 950.80,175.2 951.15,173.3 951.50,172.2 951.90,170.3 952.30,167.7 952.65,168.1 953.00,169.2 953.40,166.8 953.80,164.7 954.15,163.7 954.50,158.8 954.85,156.3 955.20,154.3 955.60,146.5 956.00,151.3 956.35,149.0 956.70,146.8 957.10,140.0 957.50,137.9 957.85,138.1 958.20,134.9 958.60,132.6 959.00,133.4 959.35,132.7 959.70,131.2 960.10,138.7 960.50,134.9 960.85,135.9 961.20,142.4 961.60,142.4 962.00,148.3 962.35,150.6 962.70,160.3 963.05,148.8 963.40,149.8 963.80,147.2 964.20,154.3 964.55,151.5 964.90,146.8 965.30,145.9 965.70,148.3 966.05,141.9 966.40,145.3 966.80,142.2 967.20,146.8 967.55,152.9 967.90,155.8 968.30,150.8 968.70,149.8 969.05,146.6 969.40,145.3 969.80,145.5 970.20,143.9 970.55,152.6 970.90,154.3 971.25,164.5 971.60,164.7 972.00,168.5 972.40,167.0 972.75,167.0 973.10,166.2 973.50,165.9 973.90,164.7 974.25,167.9 974.60,161.7 975.00,164.7 975.40,160.3 975.75,158.7 976.10,158.8 976.50,159.2 976.90,157.3 977.25,160.2 977.60,161.7 978.00,164.8 978.40,167.7 978.75,164.1 979.10,163.2 979.45,160.5 979.80,164.7 980.20,164.1 980.60,166.2 980.95,163.7 981.30,169.2 981.70,173.1 982.10,170.7 982.45,172.8 982.80,172.2 983.20,167.6 983.60,169.2 983.95,169.8 984.30,163.2 984.70,156.6 985.10,145.3 985.45,137.4 985.80,139.4 986.20,144.2 986.60,139.4 986.95,140.8 987.30,137.9 987.65,142.5 988.00,136.4 988.40,133.9 988.80,137.9 989.15,140.0 989.50,139.4 989.90,139.8 990.30,137.9 990.65,138.4 991.00,137.9 991.40,139.1 991.80,139.4 992.15,143.6 992.50,142.4 992.90,140.0 993.30,145.3 993.65,144.3 994.00,149.8 994.40,144.7 994.80,146.8 995.15,145.4 995.50,146.8 995.85,146.0 996.20,148.3 996.60,150.0 997.00,149.8 997.35,151.6 997.70,152.1 998.10,151.8 998.50,151.3 998.85,150.3 999.20,152.8 999.60,150.9 1000.00,151.3 1000.35,155.3 1000.70,154.3 1001.10,160.7 1001.50,163.2 1001.85,165.7 1002.20,167.7 1002.60,167.6 1003.00,169.2 1003.35,171.7 1003.70,166.2 1004.05,162.4 1004.40,161.7 1004.80,160.4 1005.20,155.8 1005.55,155.8 1005.90,149.8 1006.30,149.9 1006.70,151.3 1007.05,151.9 1007.40,148.3 1007.80,144.6 1008.20,146.8 1008.55,150.9 1008.90,149.8 1009.30,154.1 1009.70,157.3 1010.05,152.4 1010.40,155.8 1010.80,158.3 1011.20,157.3 1011.55,155.7 1011.90,158.8 1012.25,165.1 1012.60,164.7 1013.00,168.9 1013.40,176.6 1013.75,185.1 1014.10,194.5 1014.50,189.3 1014.90,182.6 1015.25,182.5 1015.60,184.1 1016.00,183.3 1016.40,181.1 1016.75,181.9 1017.10,185.6 1017.50,186.6 1017.90,184.1 1018.25,184.1 1018.60,184.1 1019.00,184.6 1019.40,184.1 1019.75,173.9 1020.10,178.1 1020.45,181.1 1020.80,178.1 1021.20,183.4 1021.60,188.6 1021.95,184.7 1022.30,190.1 1022.70,189.6 1023.10,188.6 1023.45,191.3 1023.80,191.6 1024.20,196.6 1024.60,196.0 1024.95,196.2 1025.30,202.0 1025.70,203.8 1026.10,197.5 1026.45,195.6 1026.80,194.5 1027.15,200.0 1027.50,193.0 1027.90,194.1 1028.30,196.0 1028.65,198.5 1029.00,197.5 1029.40,195.0 1029.80,194.5 1030.15,188.6 1030.50,188.6 1030.90,189.2 1031.30,184.1 1031.65,185.7 1032.00,182.6 1032.40,185.9 1032.80,181.1 1033.15,184.1 1033.50,182.6 1033.90,183.4 1034.30,187.1 1034.65,186.5 1035.00,194.5 1035.35,193.6 1035.70,196.0 1036.10,192.7 1036.50,193.0 1036.85,191.6 1037.20,194.5 1037.60,194.6 1038.00,191.6 1038.35,190.2 1038.70,187.1 1039.10,184.9 1039.50,184.1 1039.85,184.5 1040.20,184.1 1040.60,185.1 1041.00,186.8 1041.55,184.2 1042.10,180.5 1042.60,186.7 1043.10,188.9 1043.65,189.3 1044.20,184.7 1044.70,181.9 1045.20,182.6 1045.75,182.9 1046.30,191.0 1046.80,195.8 1047.30,193.1 1047.85,185.0 1048.40,176.4 1048.90,169.9 1049.40,157.6 1049.90,151.2 1050.40,153.4 1050.95,157.7 1051.50,163.8 1052.00,162.9 1052.50,161.8 1053.05,154.9 1053.60,155.5 1054.10,153.1 1054.60,153.4 1055.15,151.1 1055.70,145.1 1056.20,146.9 1056.70,143.0 1057.20,146.1 1057.70,140.9 1058.25,135.5 1058.80,134.6 1059.30,133.1 1059.80,138.8 1060.35,137.0 1060.90,132.5 1061.40,137.0 1061.90,136.7 1062.45,135.1 1063.00,132.5 1063.50,136.4 1064.00,147.1 1064.55,153.3 1065.10,155.5 1065.60,155.5 1066.10,151.3 1066.60,154.8 1067.10,155.5 1067.65,153.2 1068.20,153.4 1068.70,152.1 1069.20,149.2 1069.75,148.2 1070.30,143.0 1070.80,146.7 1071.30,153.4 1071.85,151.8 1072.40,159.7 1072.90,158.5 1073.40,155.5 1073.90,154.7 1074.40,151.3 1074.95,154.5 1075.50,157.6 1076.00,158.9 1076.50,155.5 1077.05,155.0 1077.60,157.6 1078.10,156.3 1078.60,155.5 1079.15,156.8 1079.70,159.7 1080.20,167.4 1080.70,172.2 1081.25,180.5 1081.80,180.5 1082.30,181.4 1082.80,183.7 1083.30,187.4 1083.80,180.5 1084.35,185.5 1084.90,182.6 1085.40,183.6 1085.90,180.5 1086.45,182.0 1087.00,180.5 1087.50,183.1 1088.00,176.4 1088.55,179.0 1089.10,182.6 1089.60,186.5 1090.10,191.0 1090.40,194.5 1090.70,203.5 1091.15,205.8 1091.60,205.6 1092.10,210.1 1092.60,207.7 1093.15,214.3 1093.70,218.1 1094.00,222.4 1094.30,224.4 1094.80,222.8 1095.30,222.3 1095.85,221.7 1096.40,220.2 1096.90,214.4 1097.40,216.0 1097.95,217.7 1098.50,213.9 1099.00,213.9 1099.50,216.0 1100.00,216.3 1100.50,222.3 1101.05,223.5 1101.60,228.6 1102.10,228.5 1102.60,232.7 1103.15,237.0 1103.70,236.9 1104.20,247.0 1104.70,251.5 1105.25,242.8 1105.80,241.1 1106.30,245.6 1106.80,245.3 1107.30,246.6 1107.80,243.2 1108.35,242.7 1108.90,245.3 1109.40,235.1 1109.90,232.7 1110.45,228.7 1111.00,228.6 1111.50,227.0 1112.00,228.6 1112.55,228.4 1113.10,226.5 1113.60,226.1 1114.10,227.5 1114.65,220.7 1115.20,224.4 1115.50,214.6 1115.80,203.5 1116.20,191.2 1116.60,186.8 1117.15,187.1 1117.70,182.6 1118.10,180.2 1118.50,182.2 1118.90,184.7 1119.30,182.1 1119.70,182.4 1120.10,186.8 1120.50,183.0 1121.00,185.6 1121.50,185.4 1122.00,185.1 1122.50,184.7 1123.00,178.6 1123.50,180.5 1124.05,182.3 1124.60,186.8 1125.10,186.4 1125.60,188.9 1126.10,184.3 1126.60,184.7 1127.15,181.9 1127.70,176.4 1128.20,177.6 1128.70,182.6 1129.25,183.9 1129.80,188.9 1130.30,185.1 1130.80,186.8 1131.15,185.6 1131.50,195.0 1131.75,200.4 1132.00,202.7 1132.50,200.1 1133.00,190.6 1133.50,192.1 1134.00,192.6 1134.50,188.1 1135.00,188.6 1135.50,180.6 1136.00,186.6 1136.50,188.0 1137.00,188.6 1137.55,189.7 1138.10,184.5 1138.60,178.3 1139.10,170.5 1139.60,171.9 1140.10,168.4 1140.60,165.2 1141.10,154.3 1141.60,151.2 1142.10,142.3 1142.60,140.2 1143.10,140.3 1143.60,142.0 1144.10,138.2 1144.60,141.3 1145.10,140.3 1145.60,135.3 1146.10,138.2 1146.60,143.2 1147.10,150.3 1147.60,143.6 1148.10,144.3 1148.60,139.0 1149.10,134.2 1149.60,130.7 1150.10,124.2 1150.60,116.4 1151.10,114.1 1151.60,111.8 1152.10,120.1 1152.60,121.5 1153.10,116.1 1153.65,123.1 1154.20,128.2 1154.70,123.5 1155.20,111.1 1155.70,113.2 1156.20,122.1 1156.70,122.9 1157.20,118.1 1157.70,125.5 1158.20,122.1 1158.70,127.8 1159.20,123.1 1159.70,123.1 1160.20,124.2 1160.70,122.8 1161.20,120.1 1161.70,116.7 1162.20,114.1 1162.70,117.7 1163.20,116.1 1163.70,119.8 1164.20,118.1 1164.70,119.3 1165.20,120.1 1165.70,119.6 1166.20,126.2 1166.70,132.6 1167.20,135.2 1167.70,130.5 1168.20,128.2 1168.75,126.8 1169.30,122.1 1169.80,120.8 1170.30,118.1 1170.80,120.8 1171.30,115.1 1171.80,122.6 1172.30,124.2 1172.60,130.6 1172.90,139.3 1173.40,134.7 1173.90,128.2 1174.30,136.8 1174.70,136.2 1175.20,132.8 1175.70,132.2 1176.20,135.8 1176.70,137.2 1177.20,138.8 1177.70,134.2 1178.20,135.0 1178.70,129.2 1179.20,134.0 1179.70,136.2 1180.20,133.8 1180.70,138.2 1181.20,140.0 1181.70,148.3 1182.20,151.9 1182.70,154.3 1183.20,151.3 1183.70,146.3 1184.25,156.9 1184.80,154.3 1185.30,155.1 1185.80,160.4 1186.30,164.4 1186.80,162.4 1187.30,166.4 1187.80,166.4 1188.10,167.1 1188.40,176.5 1188.90,172.4 1189.40,172.5 1189.90,167.9 1190.40,162.4 1190.90,163.1 1191.40,166.4 1191.90,163.0 1192.40,160.4 1192.90,163.6 1193.40,164.4 1193.90,160.3 1194.40,160.4 1194.90,159.6 1195.40,156.4 1195.90,158.7 1196.40,164.4 1196.90,165.0 1197.40,168.4 1197.90,172.8 1198.40,174.5 1198.90,170.0 1199.40,168.4 1199.95,170.2 1200.50,170.5 1201.00,173.6 1201.50,168.4 1202.00,167.5 1202.50,166.4 1203.00,165.0 1203.50,164.4 1204.00,163.3 1204.50,158.4 1205.00,158.4 1205.50,160.4 1206.00,164.2 1206.50,162.4 1207.00,156.1 1207.50,156.4 1208.00,156.5 1208.50,153.3 1209.00,153.5 1209.50,156.4 1210.00,156.3 1210.50,160.4 1211.00,169.0 1211.50,168.4 1212.00,167.2 1212.50,170.5 1213.00,173.0 1213.50,166.4 1213.80,172.2 1214.10,174.5 1214.50,184.3 1214.90,186.6 1215.20,190.1 1215.50,198.6 1215.85,204.8 1216.20,204.7 1216.40,219.5 1216.60,226.8 1216.90,218.4 1217.20,210.7 1217.70,210.4 1218.20,210.7" fill="none" stroke="#8a8898" stroke-width="1.75" stroke-linejoin="round"/>
<line x1="92.7" y1="86" x2="92.7" y2="640" stroke="#8576f4" stroke-width="1.7"/>
<line x1="1235.8" y1="86" x2="1235.8" y2="639.5" stroke="#8a8898" stroke-width="1.3"/>
<text x="80.5" y="182.0" text-anchor="end" font-size="15" fill="#333">1M</text>
<text x="80.5" y="297.6" text-anchor="end" font-size="15" fill="#333">750K</text>
<text x="80.5" y="412.8" text-anchor="end" font-size="15" fill="#333">500K</text>
<text x="80.5" y="528.2" text-anchor="end" font-size="15" fill="#333">250K</text>
<text x="80.5" y="643.7" text-anchor="end" font-size="15" fill="#333">0</text>
<text x="1247.5" y="137.4" font-size="15.4" fill="#333">4K</text>
<text x="1247.5" y="221.1" font-size="15.4" fill="#333">2K</text>
<text x="1247.5" y="304.4" font-size="15.4" fill="#333">1K</text>
<text x="1247.5" y="330.4" font-size="15.4" fill="#333">800</text>
<text x="1247.5" y="365.1" font-size="15.4" fill="#333">600</text>
<text x="1247.5" y="413.5" font-size="15.4" fill="#333">400</text>
<text x="1247.5" y="498.1" font-size="15.4" fill="#333">200</text>
<text x="1247.5" y="582.2" font-size="15.4" fill="#333">100</text>
<text x="1247.5" y="609.3" font-size="15.4" fill="#333">80</text>
<text x="1247.5" y="644.4" font-size="15.4" fill="#333">60</text>
<rect x="1120" y="87.1" width="111.2" height="553.6" fill="none" stroke="#ff0000" stroke-width="3.8"/>
</svg></body></html>
